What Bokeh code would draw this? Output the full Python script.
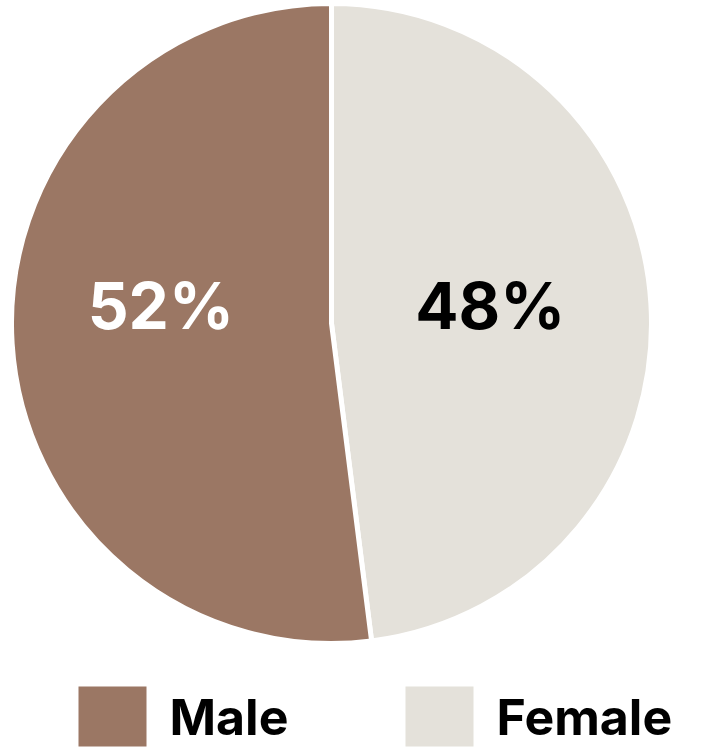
import numpy as np
from bokeh.plotting import figure
from bokeh.models import Range1d, ColumnDataSource
from bokeh.core.properties import value
from bokeh.embed import file_html
from bokeh.resources import INLINE

categories = ["Female", "Male"]
shares = [48, 52]
colors = ["#E4E1DA", "#9B7764"]
label_colors = ["#000000", "#FFFFFF"]
legend_order = ["Male", "Female"]

W, H = 708, 747
p = figure(width=W, height=H, output_backend="svg", toolbar_location=None,
           x_range=Range1d(0, W), y_range=Range1d(0, H), min_border=0)
p.axis.visible = False
p.grid.visible = False
p.outline_line_color = None
p.background_fill_color = "white"
p.border_fill_color = "white"

cx, cy, r = 331, H - 323, 320
frac = np.array(shares, dtype=float) / sum(shares)
ang = frac * 2 * np.pi
ends = np.pi / 2 - np.concatenate([[0], np.cumsum(ang)[:-1]])
starts = ends - ang
mids = (starts + ends) / 2

src = ColumnDataSource(dict(start=starts, end=ends, color=colors, cat=categories))
p.wedge(x=cx, y=cy, radius=r, start_angle="start", end_angle="end",
        fill_color="color", line_color="white", line_width=5, source=src)

lab = ColumnDataSource(dict(
    x=cx - 6 + 165 * np.cos(mids),
    y=np.full(len(shares), H - 305.0),
    t=[f"{s}%" for s in shares],
    c=label_colors))
p.text(x="x", y="y", text="t", text_color="c", source=lab,
       text_font=value("Inter"), text_font_style="bold", text_font_size="64px",
       text_align="center", text_baseline="middle")

# legend
cmap = dict(zip(categories, colors))
leg_x = [78, 405]
sq = ColumnDataSource(dict(x=[lx + 34 for lx in leg_x], y=[H - 716] * 2,
                           c=[cmap[k] for k in legend_order]))
p.rect(x="x", y="y", width=68, height=60, fill_color="c", line_color=None, source=sq)
lt = ColumnDataSource(dict(x=[lx + 91 for lx in leg_x], y=[H - 716] * 2, t=legend_order))
p.text(x="x", y="y", text="t", source=lt, text_color="black",
       text_font=value("Inter"), text_font_style="bold", text_font_size="50px",
       text_align="left", text_baseline="middle")

open("out.html", "w").write(file_html(p, INLINE))
